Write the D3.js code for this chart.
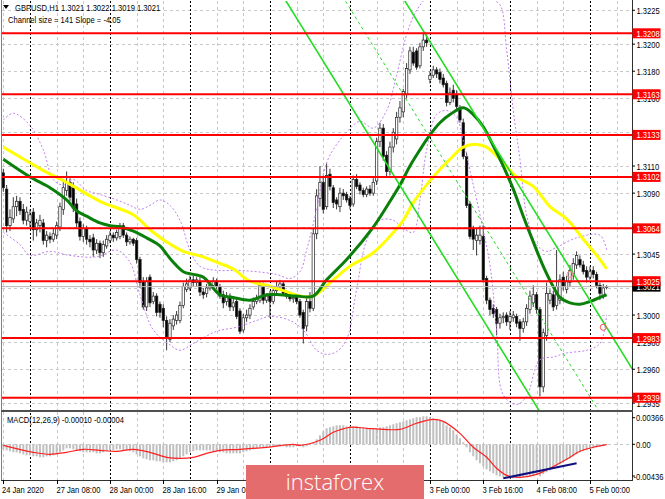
<!DOCTYPE html>
<html><head><meta charset="utf-8">
<script src="https://cdn.jsdelivr.net/npm/d3@7"></script>
<style>html,body{margin:0;padding:0;background:#fff;overflow:hidden}</style>
</head><body><svg id="c" width="665" height="499"></svg>
<script>
// ---------- DATA ----------
const symbolTitle = "GBPUSD,H1  1.3021 1.3022 1.3019 1.3021";
const channelText = "Channel size = 141 Slope = -4.05";
const macdTitle = "MACD(12,26,9) -0.00010 -0.00004";

// hourly candles [open, high, low, close], bar 0 = 24 Jan 16:00
const ohlc = [
[1.3105,1.3108,1.3091,1.3094],[1.3093,1.3096,1.3061,1.3066],[1.3066,1.3078,1.3062,1.3072],[1.3071,1.3087,1.3068,1.3080],
[1.3080,1.3088,1.3073,1.3084],[1.3084,1.3087,1.3074,1.3077],[1.3078,1.3082,1.3067,1.3070],[1.3070,1.3080,1.3066,1.3076],
[1.3069,1.3078,1.3065,1.3074],[1.3076,1.3079,1.3055,1.3063],[1.3063,1.3071,1.3058,1.3068],[1.3066,1.3074,1.3061,1.3070],
[1.3068,1.3071,1.3052,1.3055],[1.3055,1.3062,1.3050,1.3059],[1.3058,1.3061,1.3053,1.3056],[1.3056,1.3064,1.3054,1.3060],
[1.3059,1.3069,1.3056,1.3066],[1.3065,1.3083,1.3062,1.3080],[1.3078,1.3100,1.3074,1.3094],[1.3092,1.3106,1.3088,1.3098],
[1.3098,1.3101,1.3084,1.3087],[1.3094,1.3098,1.3076,1.3079],[1.3082,1.3086,1.3065,1.3068],[1.3069,1.3072,1.3055,1.3058],
[1.3058,1.3067,1.3054,1.3064],[1.3064,1.3066,1.3052,1.3056],[1.3056,1.3059,1.3050,1.3054],[1.3057,1.3060,1.3043,1.3048],
[1.3048,1.3056,1.3045,1.3053],[1.3053,1.3055,1.3042,1.3046],[1.3046,1.3055,1.3043,1.3052],[1.3051,1.3059,1.3049,1.3056],
[1.3055,1.3062,1.3053,1.3059],[1.3059,1.3061,1.3054,1.3057],[1.3057,1.3063,1.3055,1.3061],[1.3058,1.3068,1.3056,1.3066],
[1.3066,1.3068,1.3057,1.3059],[1.3059,1.3061,1.3051,1.3054],[1.3054,1.3058,1.3052,1.3056],[1.3056,1.3057,1.3051,1.3053],
[1.3055,1.3057,1.3038,1.3041],[1.3041,1.3043,1.3020,1.3024],[1.3025,1.3028,1.3004,1.3006],[1.3006,1.3028,1.3003,1.3025],
[1.3028,1.3030,1.3006,1.3009],[1.3010,1.3017,1.3008,1.3014],[1.3014,1.3016,1.2999,1.3002],[1.3008,1.3010,1.2998,1.3002],
[1.3005,1.3008,1.2991,1.2996],[1.2996,1.2999,1.2974,1.2984],[1.2982,1.2997,1.2980,1.2994],[1.2992,1.3000,1.2989,1.2997],
[1.2996,1.3003,1.2993,1.3000],[1.2996,1.3010,1.2994,1.3007],[1.3007,1.3024,1.3005,1.3021],[1.3019,1.3027,1.3017,1.3023],
[1.3020,1.3029,1.3018,1.3026],[1.3026,1.3029,1.3021,1.3024],[1.3024,1.3028,1.3021,1.3026],[1.3025,1.3028,1.3014,1.3017],
[1.3017,1.3020,1.3012,1.3015],[1.3016,1.3023,1.3013,1.3020],[1.3020,1.3025,1.3018,1.3022],[1.3022,1.3028,1.3020,1.3025],
[1.3025,1.3027,1.3019,1.3021],[1.3021,1.3023,1.3012,1.3014],[1.3015,1.3018,1.3005,1.3009],[1.3010,1.3017,1.3007,1.3014],
[1.3014,1.3016,1.3003,1.3006],[1.3006,1.3012,1.3003,1.3009],[1.3010,1.3012,1.2997,1.2999],[1.3003,1.3005,1.2986,1.2988],
[1.2989,1.3001,1.2987,1.2998],[1.2998,1.3004,1.2995,1.3000],[1.3000,1.3008,1.2997,1.3005],[1.3006,1.3013,1.3004,1.3010],
[1.3010,1.3015,1.3008,1.3012],[1.3011,1.3025,1.3009,1.3022],[1.3022,1.3024,1.3008,1.3011],[1.3011,1.3016,1.3009,1.3014],
[1.3015,1.3018,1.2998,1.3010],[1.3010,1.3021,1.3008,1.3018],[1.3018,1.3025,1.3016,1.3021],[1.3021,1.3026,1.3019,1.3023],
[1.3023,1.3025,1.3014,1.3016],[1.3016,1.3018,1.3012,1.3014],[1.3015,1.3017,1.3010,1.3012],[1.3012,1.3015,1.3009,1.3013],
[1.3013,1.3015,1.3008,1.3010],[1.3010,1.3012,1.2998,1.3000],[1.3002,1.3004,1.2979,1.2990],[1.2992,1.3014,1.2988,1.3010],
[1.3010,1.3017,1.3002,1.3005],[1.3005,1.3064,1.3003,1.3060],[1.3060,1.3093,1.3056,1.3088],[1.3086,1.3110,1.3080,1.3098],
[1.3098,1.3103,1.3075,1.3078],[1.3080,1.3112,1.3078,1.3103],[1.3104,1.3108,1.3092,1.3095],[1.3094,1.3096,1.3079,1.3083],
[1.3085,1.3087,1.3078,1.3082],[1.3080,1.3094,1.3076,1.3090],[1.3090,1.3093,1.3085,1.3088],[1.3089,1.3091,1.3083,1.3085],
[1.3086,1.3088,1.3078,1.3081],[1.3082,1.3103,1.3080,1.3100],[1.3100,1.3104,1.3093,1.3095],[1.3096,1.3098,1.3089,1.3092],
[1.3092,1.3094,1.3087,1.3089],[1.3089,1.3095,1.3087,1.3093],[1.3093,1.3096,1.3088,1.3090],[1.3090,1.3101,1.3088,1.3098],
[1.3099,1.3131,1.3096,1.3128],[1.3128,1.3142,1.3124,1.3138],[1.3138,1.3141,1.3114,1.3117],[1.3118,1.3121,1.3102,1.3106],
[1.3106,1.3128,1.3103,1.3124],[1.3124,1.3138,1.3120,1.3135],[1.3130,1.3150,1.3126,1.3146],[1.3146,1.3158,1.3142,1.3153],
[1.3150,1.3167,1.3146,1.3165],[1.3163,1.3186,1.3160,1.3182],[1.3181,1.3198,1.3178,1.3195],[1.3194,1.3198,1.3184,1.3186],
[1.3195,1.3197,1.3181,1.3183],[1.3184,1.3201,1.3182,1.3198],[1.3198,1.3208,1.3195,1.3203],[1.3203,1.3207,1.3198,1.3201],
[1.3174,1.3180,1.3171,1.3177],[1.3177,1.3184,1.3175,1.3181],[1.3181,1.3183,1.3175,1.3178],[1.3179,1.3182,1.3171,1.3174],
[1.3175,1.3178,1.3168,1.3170],[1.3171,1.3173,1.3154,1.3157],[1.3157,1.3168,1.3155,1.3164],[1.3166,1.3170,1.3157,1.3160],
[1.3163,1.3166,1.3151,1.3154],[1.3153,1.3155,1.3142,1.3144],[1.3142,1.3145,1.3115,1.3117],[1.3117,1.3120,1.3079,1.3081],
[1.3082,1.3084,1.3056,1.3058],[1.3064,1.3066,1.3048,1.3056],[1.3055,1.3064,1.3044,1.3059],[1.3055,1.3066,1.3052,1.3059],
[1.3058,1.3066,1.3024,1.3026],[1.3027,1.3029,1.3008,1.3011],[1.3011,1.3013,1.3000,1.3004],[1.3005,1.3008,1.2998,1.3001],
[1.3004,1.3006,1.2985,1.2994],[1.2994,1.3001,1.2990,1.2998],[1.2998,1.3002,1.2994,1.2999],[1.3000,1.3002,1.2992,1.2995],
[1.2995,1.3003,1.2989,1.2999],[1.2998,1.3003,1.2995,1.3000],[1.2999,1.3001,1.2991,1.2994],[1.2995,1.2997,1.2981,1.2990],
[1.2990,1.2998,1.2987,1.2995],[1.2995,1.3008,1.2992,1.3005],[1.3004,1.3018,1.3001,1.3014],[1.3009,1.3022,1.3006,1.3015],
[1.3015,1.3017,1.3001,1.3004],[1.3004,1.3006,1.2940,1.2947],[1.2947,1.2990,1.2943,1.2987],[1.2985,1.3024,1.2981,1.3016],
[1.3011,1.3019,1.3008,1.3016],[1.3015,1.3018,1.3003,1.3006],[1.3007,1.3048,1.3004,1.3021],[1.3011,1.3030,1.3008,1.3026],
[1.3028,1.3032,1.3018,1.3021],[1.3019,1.3029,1.3016,1.3025],[1.3024,1.3037,1.3021,1.3033],[1.3029,1.3042,1.3026,1.3038],
[1.3037,1.3047,1.3034,1.3044],[1.3041,1.3044,1.3035,1.3037],[1.3037,1.3040,1.3030,1.3032],[1.3033,1.3036,1.3024,1.3028],
[1.3028,1.3036,1.3026,1.3032],[1.3033,1.3036,1.3027,1.3030],[1.3030,1.3032,1.3020,1.3022],[1.3022,1.3024,1.3011,1.3016],
[1.3014,1.3023,1.3012,1.3020],[1.3021,1.3022,1.3019,1.3021]
];

// moving averages: [bar, price]
const maGreen = [[0,1.3115],[8,1.3102],[14,1.3094],[19,1.3085],[22,1.3077],[25,1.3073],[29,1.3068],[32,1.3066],[35,1.3065],
[39,1.3062],[43,1.3057],[47,1.3051],[49,1.3045],[51,1.3039],[54,1.3032],[57,1.3030],[60,1.3028],[65,1.3015],[69,1.3013],
[74,1.3011],[79,1.3015],[83,1.3015],[88,1.3014],[93,1.3014],[97,1.3026],[103,1.3041],[111,1.3065],[115,1.3080],[119,1.3096],
[122,1.3110],[125,1.3122],[128,1.3133],[131,1.3142],[134,1.3148],[138,1.3153],[141,1.3148],[144,1.3139],[147,1.3125],
[150,1.3110],[153,1.3093],[156,1.3073],[159,1.3054],[162,1.3036],[165,1.3021],[167,1.3013],[170,1.3009],[173,1.3008],
[176,1.3010],[179,1.3013],[181,1.3015]];
const maYellow = [[0,1.3124],[9,1.3111],[14,1.3104],[19,1.3098],[29,1.3084],[39,1.3074],[44,1.3063],[49,1.3054],[54,1.3047],
[60,1.3043],[64,1.3039],[69,1.3034],[74,1.3025],[79,1.3022],[84,1.3018],[89,1.3014],[93,1.3014],[99,1.3026],[104,1.3036],
[111,1.3046],[117,1.3061],[120,1.3070],[123,1.3083],[129,1.3102],[134,1.3115],[138,1.3124],[142,1.3126],[145,1.3124],
[149,1.3115],[154,1.3102],[159,1.3095],[164,1.3080],[169,1.3071],[174,1.3056],[179,1.3041],[181,1.3034]];
// envelope bands (dotted violet)
const bandUpper = [[0,1.3144],[3,1.3149],[8,1.3140],[12,1.3122],[15,1.3100],[18,1.3096],[21,1.3100],[25,1.3092],[29,1.3089],
[34,1.3085],[38,1.3081],[41,1.3078],[44,1.3081],[47,1.3085],[50,1.3081],[53,1.3070],[56,1.3048],[59,1.3036],[64,1.3033],
[70,1.3033],[76,1.3032],[82,1.3030],[86,1.3027],[89,1.3032],[91,1.3048],[94,1.3078],[96,1.3104],[98,1.3118],[103,1.3135],
[107,1.3143],[111,1.3138],[115,1.3151],[118,1.3177],[121,1.3207],[124,1.3225],[128,1.3236],[134,1.3240],[140,1.3233],
[146,1.3233],[149,1.3229],[151,1.3196],[153,1.3151],[155,1.3115],[157,1.3074],[160,1.3052],[163,1.3047],[166,1.3050],
[172,1.3057],[179,1.3059],[181,1.3048]];
const bandLower = [[0,1.3061],[5,1.3052],[8,1.3044],[14,1.3047],[20,1.3044],[28,1.3043],[34,1.3048],[38,1.3039],[41,1.3015],
[45,1.2989],[50,1.2978],[53,1.2974],[57,1.2979],[64,1.2988],[70,1.2991],[76,1.2996],[80,1.2999],[86,1.2996],[90,1.2989],
[94,1.2974],[97,1.2971],[100,1.2973],[103,1.2982],[106,1.3019],[109,1.3055],[113,1.3070],[117,1.3070],[120,1.3064],
[123,1.3061],[125,1.3085],[127,1.3122],[130,1.3148],[133,1.3151],[136,1.3146],[138,1.3129],[140,1.3107],[143,1.3074],
[146,1.3037],[148,1.2989],[150,1.2941],[154,1.2934],[157,1.2940],[161,1.2967],[165,1.2969],[169,1.2972],[175,1.2974],
[179,1.2979],[181,1.3000]];

// regression channel end points [bar, price]
const channelBars = [80, 190];
const channelLow = [1.3251, 1.2813];
const channelMid = [1.3322, 1.2884];
const channelHigh = [1.3393, 1.2955];

const levels = [1.3208, 1.3163, 1.3133, 1.3102, 1.3064, 1.3025, 1.2983, 1.2939];
const lastPrice = 1.3021;
// grid prices; labels are shown only where the reference leaves them visible
const priceTicks = [1.3225,1.3200,1.3180,1.3160,1.3135,1.3110,1.3090,1.3065,1.3045,1.3020,1.3000,1.2980,1.2960,1.2935];
const priceTickLabels = ["1.3225","1.3200","1.3180","1.3160","","1.3110","1.3090","","1.3045","","1.3000","1.2980","1.2960","1.2935"];
const markers = [[180,1.2991],[170,1.3030]];

// time labels visible in the reference (the middle ones sit under the watermark)
const timeLabels = ["24 Jan 2020","27 Jan 08:00","28 Jan 00:00","28 Jan 16:00","29 Jan 08:00",
  "3 Feb 00:00","3 Feb 16:00","4 Feb 08:00","5 Feb 00:00"];
const timeLabelBars = [0,16,32,48,64,128,144,160,176];
const timeTickBars = [0,16,32,48,64,80,96,112,128,144,160,176];

// MACD main (histogram) per bar
const macdHist = [
-0.00069,-0.00083,-0.00096,-0.00110,-0.00110,-0.00124,-0.00138,-0.00151,-0.00151,-0.00165,-0.00165,-0.00179,-0.00179,-0.00165,-0.00165,
-0.00151,-0.00138,-0.00110,-0.00083,-0.00055,-0.00055,-0.00069,-0.00083,
-0.00096,-0.00110,-0.00110,-0.00110,-0.00110,-0.00124,-0.00124,-0.00110,-0.00096,-0.00083,-0.00083,-0.00069,-0.00069,
-0.00083,-0.00083,-0.00096,-0.00110,-0.00138,-0.00165,-0.00193,-0.00206,-0.00220,-0.00220,
-0.00234,-0.00234,-0.00248,-0.00248,-0.00248,-0.00234,-0.00220,-0.00193,-0.00165,-0.00138,
-0.00110,-0.00096,-0.00083,-0.00083,-0.00083,-0.00083,-0.00083,-0.00096,-0.00096,-0.00110,
-0.00110,-0.00124,-0.00124,-0.00124,-0.00124,-0.00124,-0.00110,-0.00096,-0.00083,-0.00069,
-0.00055,-0.00041,-0.00041,-0.00041,-0.00041,-0.00028,-0.00028,-0.00028,-0.00028,-0.00041,-0.00041,-0.00041,-0.00028,-0.00028,-0.00041,-0.00028,-0.00014,
0.00028,0.00069,0.00124,0.00179,0.00220,0.00234,0.00248,
0.00261,0.00261,0.00261,0.00248,0.00248,0.00248,0.00248,0.00234,0.00234,0.00220,0.00220,0.00220,0.00220,0.00234,0.00234,0.00248,0.00261,0.00275,0.00289,
0.00303,0.00316,0.00330,0.00344,0.00358,0.00372,0.00372,0.00385,0.00385,0.00372,
0.00358,0.00344,0.00330,0.00303,0.00261,0.00234,0.00193,0.00138,0.00083,0.00028,
-0.00041,-0.00110,-0.00165,-0.00220,-0.00261,-0.00303,-0.00344,-0.00372,-0.00399,-0.00427,-0.00440,-0.00454,-0.00468,-0.00468,
-0.00468,-0.00468,-0.00468,-0.00454,-0.00454,-0.00440,-0.00440,-0.00427,-0.00440,
-0.00413,-0.00385,-0.00358,-0.00330,-0.00303,-0.00275,-0.00248,-0.00220,-0.00193,-0.00165,-0.00138,-0.00110,-0.00096,-0.00083,-0.00069,-0.00055,-0.00041,-0.00028,-0.00028,-0.00010
];
// MACD signal line [bar, value]
const macdSignal = [[0,-0.00014],[9,-0.00110],[14,-0.00138],[19,-0.00110],[24,-0.00069],[29,-0.00083],[34,-0.00096],
[39,-0.00069],[44,-0.00110],[49,-0.00179],[53,-0.00193],[57,-0.00179],[61,-0.00124],[65,-0.00083],[71,-0.00069],
[79,-0.00041],[87,0.00000],[89,-0.00014],[95,0.00055],[99,0.00165],[104,0.00234],[109,0.00220],[114,0.00206],[119,0.00206],
[124,0.00289],[129,0.00344],[132,0.00316],[137,0.00151],[141,-0.00041],[145,-0.00179],[148,-0.00330],[151,-0.00427],
[155,-0.00454],[160,-0.00413],[164,-0.00330],[169,-0.00206],[173,-0.00096],[177,-0.00041],[181,-0.00004]];
const macdDivergence = [[150,-0.00468],[172,-0.00261]];
const macdTicks = [0.00366, 0.00, -0.00436];
const macdTickLabels = ["0.00366","0.00","-0.00436"];

// ---------- DRAW ----------
const svg = d3.select("#c");
const FONT = '"Liberation Sans", Arial, sans-serif';
const main = {l:2, r:632, t:1, b:410};
const sub = {t:412, b:480};

const x = d3.scaleLinear().domain([0,181]).range([3.3,606.6]);
const y = d3.scaleLinear().domain([1.2939,1.3208]).range([397.7,33.3]);
const ym = d3.scaleLinear().domain([-0.00436,0.00366]).range([476,417.7]);

function T(g, px, py, s, o={}) {
  return g.append("text")
    .attr("transform", `translate(${px},${py}) scale(${o.sx||0.8},1)`)
    .attr("font-family", o.font||FONT).attr("font-size", o.fs||9.5)
    .attr("font-weight", o.fw||"normal")
    .attr("fill", o.fill||"#000").attr("text-anchor", o.anchor||"start").text(s);
}

svg.append("rect").attr("width",665).attr("height",499).attr("fill","#fff");
const defs = svg.append("defs");
defs.append("clipPath").attr("id","cm").append("rect")
  .attr("x",main.l).attr("y",main.t).attr("width",main.r-main.l).attr("height",main.b-main.t);
defs.append("clipPath").attr("id","cs").append("rect")
  .attr("x",main.l).attr("y",sub.t).attr("width",main.r-main.l).attr("height",sub.b-sub.t);

// grids
const grid = svg.append("g");
priceTicks.forEach(p => {
  grid.append("line").attr("x1",main.l).attr("x2",main.r).attr("y1",Math.round(y(p))+0.5).attr("y2",Math.round(y(p))+0.5)
    .attr("stroke","#c8c8c8").attr("stroke-dasharray","3,3");
});
for (let i = 0; i <= 184; i += 8) {
  const xx = Math.round(x(i)) + 0.5;
  if (xx > main.r) break;
  const sep = (i % 24) === 8;
  if (!sep) {
    grid.append("line").attr("x1",xx).attr("x2",xx).attr("y1",main.t).attr("y2",main.b).attr("stroke","#c8c8c8").attr("stroke-dasharray","3,3");
    grid.append("line").attr("x1",xx).attr("x2",xx).attr("y1",sub.t).attr("y2",sub.b).attr("stroke","#c8c8c8").attr("stroke-dasharray","3,3");
  }
}
grid.append("line").attr("x1",main.l).attr("x2",main.r).attr("y1",Math.round(ym(0))+0.5).attr("y2",Math.round(ym(0))+0.5)
  .attr("stroke","#c8c8c8").attr("stroke-dasharray","3,3");

// period separators
for (let i = 8; i <= 184; i += 24) {
  const xx = Math.round(x(i)) + 0.5;
  svg.append("line").attr("x1",xx).attr("x2",xx).attr("y1",main.t).attr("y2",sub.b)
    .attr("stroke","#000").attr("stroke-dasharray","2,2").attr("stroke-width",1);
}

// candles
const cg = svg.append("g").attr("clip-path","url(#cm)");
ohlc.forEach((d,i) => {
  const [o,h,l,c] = d;
  const cx = x(i);
  cg.append("line").attr("x1",cx).attr("x2",cx).attr("y1",y(h)).attr("y2",y(l)).attr("stroke","#222").attr("stroke-width",0.9);
  const top = Math.min(y(o),y(c)), ht = Math.max(1, Math.abs(y(o)-y(c)));
  cg.append("rect").attr("x",cx-1.2).attr("y",top).attr("width",2.4).attr("height",ht)
    .attr("fill", c >= o ? "#fff" : "#000").attr("stroke", "#222").attr("stroke-width",0.7);
});

// indicators
const line = d3.line().x(d=>x(d[0])).y(d=>y(d[1])).curve(d3.curveCatmullRom.alpha(0.5));
const ig = svg.append("g").attr("clip-path","url(#cm)");
[bandUpper, bandLower].forEach(b => ig.append("path").attr("d", line(b)).attr("fill","none")
  .attr("stroke","#c080f0").attr("stroke-width",1).attr("stroke-dasharray","2,2"));
ig.append("path").attr("d", line(maYellow)).attr("fill","none").attr("stroke","#ffff00").attr("stroke-width",3);
ig.append("path").attr("d", line(maGreen)).attr("fill","none").attr("stroke","#0a800a").attr("stroke-width",3);

// channel
const chan = (arr, dash) => ig.append("line")
  .attr("x1",x(channelBars[0])).attr("y1",y(arr[0])).attr("x2",x(channelBars[1])).attr("y2",y(arr[1]))
  .attr("stroke","#22dd22").attr("stroke-width", dash?1:1.6).attr("stroke-dasharray", dash?"3,3":null);
chan(channelLow,false); chan(channelHigh,false); chan(channelMid,true);

markers.forEach((m,k) => ig.append("circle").attr("cx",x(m[0])).attr("cy",y(m[1])).attr("r",3)
  .attr("fill","none").attr("stroke", k===0 ? "#ff5050" : "#ff9090").attr("stroke-width",1));

// last price line
svg.append("line").attr("x1",main.l).attr("x2",main.r).attr("y1",y(lastPrice)).attr("y2",y(lastPrice))
  .attr("stroke","#b8b8b8").attr("stroke-width",1);

// horizontal levels
levels.forEach(p => {
  svg.append("line").attr("x1",main.l).attr("x2",main.r).attr("y1",y(p)).attr("y2",y(p))
    .attr("stroke","#ff0000").attr("stroke-width",2);
});

// MACD
const mg = svg.append("g").attr("clip-path","url(#cs)");
macdHist.forEach((v,i) => {
  const y0 = ym(0), y1 = ym(v);
  mg.append("rect").attr("x",x(i)-1).attr("width",2).attr("y",Math.min(y0,y1)).attr("height",Math.max(0.5,Math.abs(y1-y0)))
    .attr("fill","#c0c0c0");
});
const mline = d3.line().x(d=>x(d[0])).y(d=>ym(d[1])).curve(d3.curveCatmullRom.alpha(0.5));
mg.append("path").attr("d", mline(macdSignal)).attr("fill","none").attr("stroke","#ff2020").attr("stroke-width",1.2);
mg.append("path").attr("d", d3.line().x(d=>x(d[0])).y(d=>ym(d[1]))(macdDivergence)).attr("fill","none")
  .attr("stroke","#101080").attr("stroke-width",2);

// frames
svg.append("line").attr("x1",main.l-0.5).attr("x2",main.l-0.5).attr("y1",0).attr("y2",sub.b).attr("stroke","#808080");
svg.append("line").attr("x1",main.r+0.5).attr("x2",main.r+0.5).attr("y1",0).attr("y2",sub.b+1).attr("stroke","#303030");
svg.append("rect").attr("x",main.l-1).attr("y",main.b).attr("width",main.r-main.l+2).attr("height",2).attr("fill","#505050");
svg.append("line").attr("x1",main.l-1).attr("x2",main.r+1).attr("y1",sub.b+0.5).attr("y2",sub.b+0.5).attr("stroke","#303030");

// price axis
const ax = svg.append("g");
priceTicks.forEach((p,k) => {
  const yy = y(p);
  ax.append("line").attr("x1",main.r).attr("x2",main.r+3).attr("y1",yy).attr("y2",yy).attr("stroke","#000");
  if (priceTickLabels[k]) T(ax, 636.5, yy+3.5, priceTickLabels[k]);
});
// current price label
ax.append("rect").attr("x",632.5).attr("y",y(lastPrice)-5).attr("width",28).attr("height",10).attr("fill","#000");
T(ax, 636.5, y(lastPrice)+3.5, lastPrice.toFixed(4), {fill:"#fff"});
levels.forEach(p => {
  ax.append("rect").attr("x",632.5).attr("y",y(p)-5).attr("width",28).attr("height",10).attr("fill","#ff0000");
  T(ax, 636.5, y(p)+3.5, p.toFixed(4), {fill:"#fff"});
});
macdTicks.forEach((v,k) => {
  const yy = ym(v);
  ax.append("line").attr("x1",main.r).attr("x2",main.r+3).attr("y1",yy).attr("y2",yy).attr("stroke","#000");
  T(ax, v < 0 ? 633.5 : 636, yy+3.5, macdTickLabels[k]);
});

// time axis
timeTickBars.forEach(b => {
  const xx = Math.round(x(b)) + 0.5;
  ax.append("line").attr("x1",xx).attr("x2",xx).attr("y1",sub.b).attr("y2",sub.b+4).attr("stroke","#000");
});
timeLabelBars.forEach((b,k) => {
  const xx = Math.round(x(b)) + 0.5;
  T(ax, b === 0 ? 2 : xx - 1, 492.5, timeLabels[k]);
});

// titles
svg.append("path").attr("d","M3,5 L9,5 L6,9 Z").attr("fill","#000");
T(svg, 15, 11, symbolTitle);
T(svg, 8, 22.5, channelText);
T(svg, 7, 423, macdTitle);

// watermark logo
const lg = svg.append("g");
lg.append("rect").attr("x",246).attr("y",465).attr("width",178).attr("height",34).attr("fill","#e46c6c");
lg.append("text").attr("x",335).attr("y",490).attr("text-anchor","middle")
  .attr("font-family",'"Open Sans", Lato, sans-serif').attr("font-weight",300).attr("font-size",22)
  .attr("fill","#fff").text("instaforex");
</script></body></html>
